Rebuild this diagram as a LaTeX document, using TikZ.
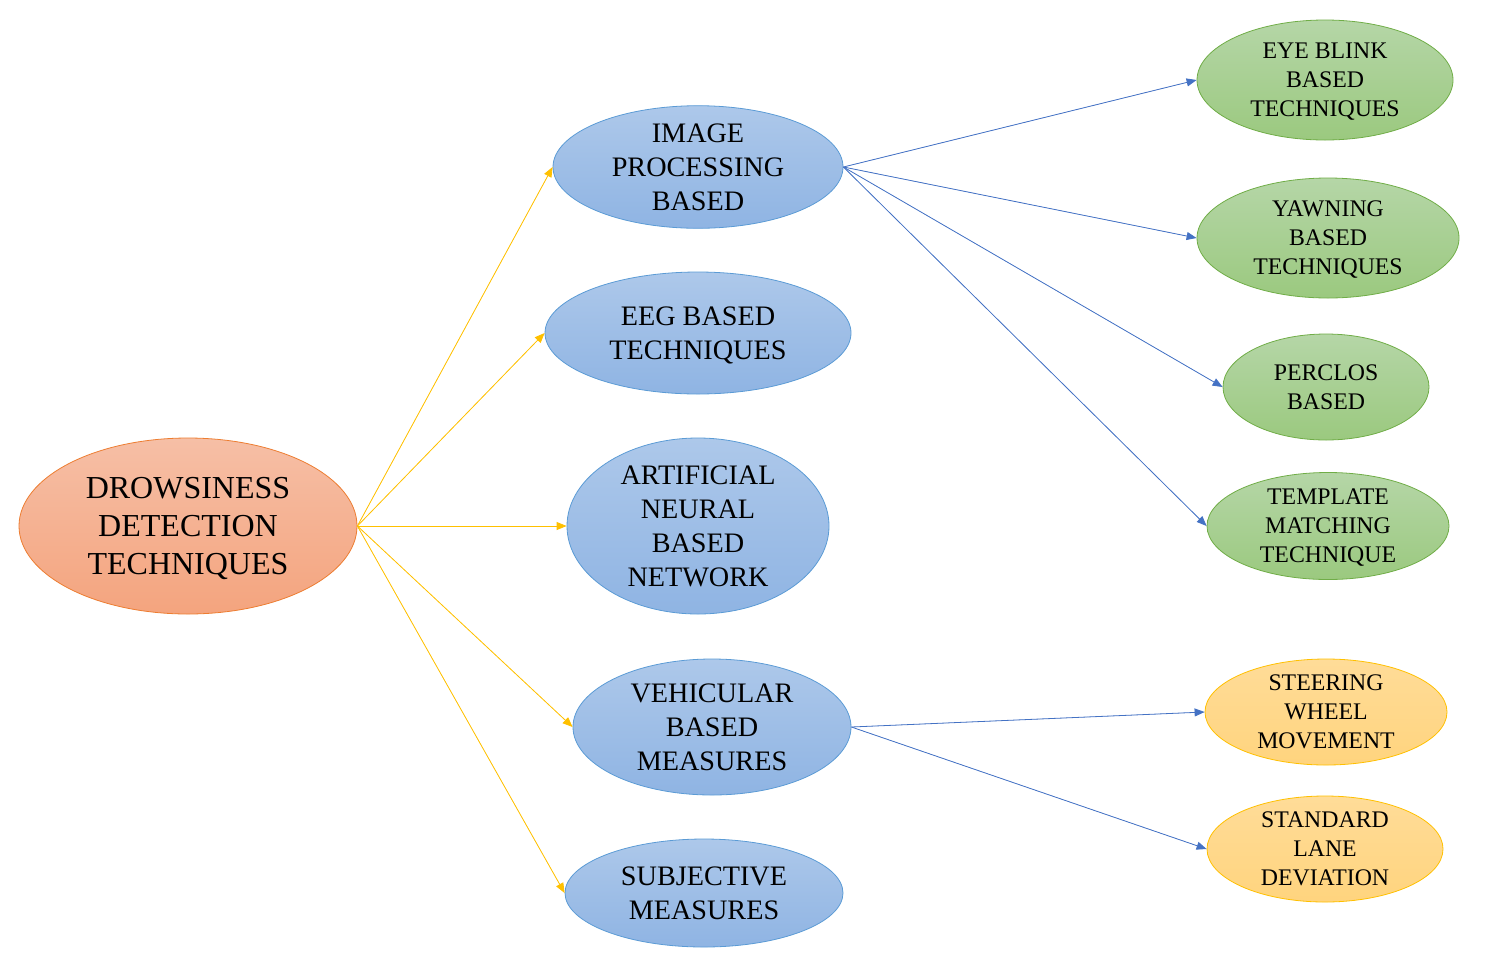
\documentclass[tikz,border=0pt]{standalone}
\usepackage{fontspec}
\setmainfont{Liberation Serif}
\usetikzlibrary{shapes.geometric,arrows.meta}
\definecolor{bluetop}{HTML}{ADC8EA}
\definecolor{bluebot}{HTML}{8FB4E3}
\definecolor{blueline}{HTML}{5B9BD5}
\definecolor{greentop}{HTML}{B5D6A7}
\definecolor{greenbot}{HTML}{9BC97F}
\definecolor{greenline}{HTML}{70AD47}
\definecolor{orangetop}{HTML}{F6BFA6}
\definecolor{orangebot}{HTML}{F4A47E}
\definecolor{orangeline}{HTML}{ED7D31}
\definecolor{yellowtop}{HTML}{FFDC98}
\definecolor{yellowbot}{HTML}{FFD47E}
\definecolor{yellowline}{HTML}{FFC000}
\definecolor{arrblue}{HTML}{4472C4}
\tikzset{
  ell/.style={ellipse, inner sep=0pt, align=center, text depth=0pt, shade, shading=axis, line width=0.8pt},
  rootell/.style={ell, top color=orangetop, bottom color=orangebot, draw=orangeline, font=\fontsize{32}{38}\selectfont},
  blueell/.style={ell, top color=bluetop, bottom color=bluebot, draw=blueline, font=\fontsize{28.2}{34}\selectfont},
  greenell/.style={ell, top color=greentop, bottom color=greenbot, draw=greenline, font=\fontsize{23.8}{29}\selectfont},
  yellowell/.style={ell, top color=yellowtop, bottom color=yellowbot, draw=yellowline, font=\fontsize{23.8}{29}\selectfont},
  yarr/.style={draw=yellowline, line width=0.8pt, -{Triangle[length=10pt,width=8pt]}, fill=yellowline},
  barr/.style={draw=arrblue, line width=0.8pt, -{Triangle[length=10pt,width=8pt]}, fill=arrblue},
}
\begin{document}
\begin{tikzpicture}[x=1pt,y=-1pt]
\useasboundingbox (0,0) rectangle (1490,967);
\node[rootell, minimum width=338pt, minimum height=176pt] (root) at (188,526) {DROWSINESS\\DETECTION\\TECHNIQUES};
\node[blueell, minimum width=290pt, minimum height=122pt] (ip) at (698,167) {IMAGE\\PROCESSING\\BASED};
\node[blueell, minimum width=306pt, minimum height=122pt] (eeg) at (698,333) {EEG BASED\\TECHNIQUES};
\node[blueell, minimum width=262pt, minimum height=176pt] (ann) at (698,526) {ARTIFICIAL\\NEURAL\\BASED\\NETWORK};
\node[blueell, minimum width=278pt, minimum height=136pt] (veh) at (712,727) {VEHICULAR\\BASED\\MEASURES};
\node[blueell, minimum width=278pt, minimum height=108pt] (subj) at (704,893) {SUBJECTIVE\\MEASURES};
\node[greenell, minimum width=256pt, minimum height=120pt] (eye) at (1325,80) {EYE BLINK\\BASED\\TECHNIQUES};
\node[greenell, minimum width=262pt, minimum height=120pt] (yawn) at (1328,238) {YAWNING\\BASED\\TECHNIQUES};
\node[greenell, minimum width=206pt, minimum height=106pt] (perc) at (1326,387) {PERCLOS\\BASED};
\node[greenell, minimum width=242pt, minimum height=107pt] (temp) at (1328,526) {TEMPLATE\\MATCHING\\TECHNIQUE};
\node[yellowell, minimum width=242pt, minimum height=106pt] (steer) at (1326,712) {STEERING\\WHEEL\\MOVEMENT};
\node[yellowell, minimum width=236pt, minimum height=106pt] (lane) at (1325,849) {STANDARD\\LANE\\DEVIATION};
\draw[yarr] (root.east) -- (ip.west);
\draw[yarr] (root.east) -- (eeg.west);
\draw[yarr] (root.east) -- (ann.west);
\draw[yarr] (root.east) -- (veh.west);
\draw[yarr] (root.east) -- (subj.west);
\draw[barr] (ip.east) -- (eye.west);
\draw[barr] (ip.east) -- (yawn.west);
\draw[barr] (ip.east) -- (perc.west);
\draw[barr] (ip.east) -- (temp.west);
\draw[barr] (veh.east) -- (steer.west);
\draw[barr] (veh.east) -- (lane.west);
\end{tikzpicture}
\end{document}
